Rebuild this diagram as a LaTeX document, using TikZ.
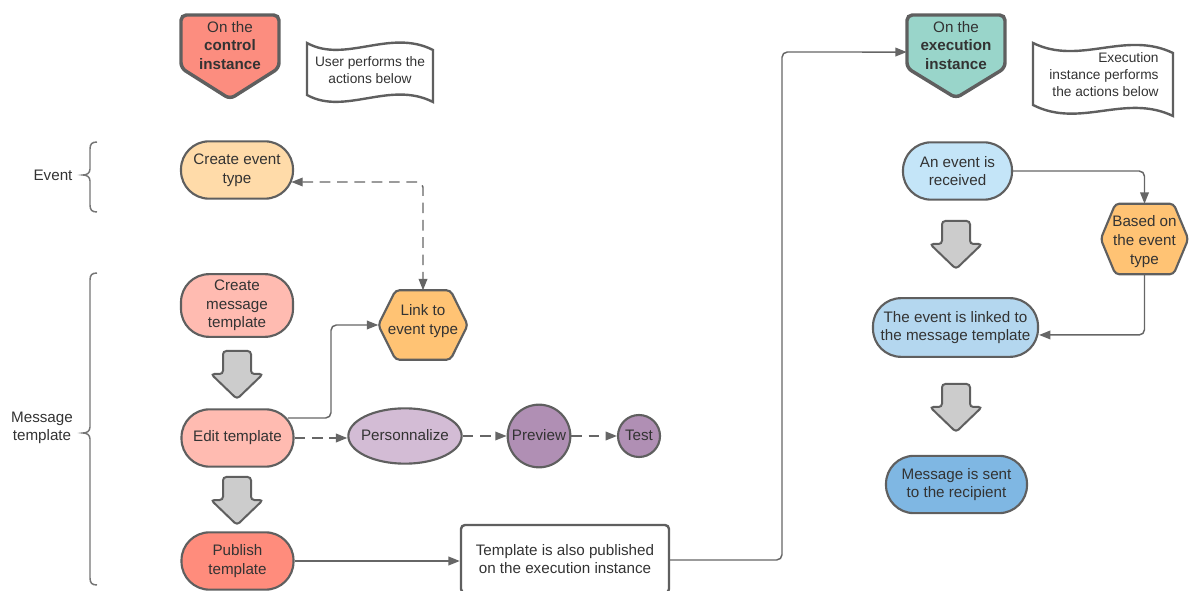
\documentclass[tikz,border=0pt]{standalone}
\usepackage{fontspec}
\setmainfont{Liberation Sans}
\usetikzlibrary{arrows.meta,shapes.geometric}
\definecolor{bd}{HTML}{5F5F5F}
\definecolor{ln}{HTML}{666666}
\definecolor{tx}{HTML}{333333}
\definecolor{ctlfill}{HTML}{FC8D7F}
\definecolor{exefill}{HTML}{99D5CA}
\definecolor{lorange}{HTML}{FFDBA9}
\definecolor{lpink}{HTML}{FFBBB1}
\definecolor{salmon}{HTML}{FF8C7C}
\definecolor{hexor}{HTML}{FFC374}
\definecolor{lpurp}{HTML}{D3BCD5}
\definecolor{purp}{HTML}{B08FB4}
\definecolor{lblue}{HTML}{C4E5F8}
\definecolor{mblue}{HTML}{B4D7EF}
\definecolor{dblue}{HTML}{7FB7E3}
\definecolor{gry}{HTML}{CCCCCC}
\newcommand\blkarrow[2]{%
  \draw[blk] (#1-14,#2) -- (#1+14,#2) -- (#1+14,#2+23) -- (#1+26,#2+23) -- (#1,#2+48) -- (#1-26,#2+23) -- (#1-14,#2+23) -- cycle;}
\begin{document}
\begin{tikzpicture}[x=0.75pt,y=-0.75pt,
  txt/.style={font=\fontsize{11.4}{14}\selectfont, text=tx, align=center, inner sep=0pt},
  small/.style={font=\fontsize{10.3}{12.75}\selectfont, text=tx, inner sep=0pt},
  stad/.style={txt, draw=bd, line width=1.6pt, rounded corners=21pt, minimum width=84pt, minimum height=43pt},
  hexs/.style={draw=bd, line width=1.6pt, fill=hexor, rounded corners=3pt},
  penta/.style={draw=bd, line width=2.6pt, rounded corners=4pt},
  docs/.style={draw=bd, line width=1.8pt, fill=white},
  blk/.style={fill=gry, draw=bd, line width=1.5pt, rounded corners=2.5pt},
  brc/.style={draw=ln!90, line width=1.1pt},
  >={Triangle[length=8.5pt,width=6.5pt]},
  conn/.style={draw=ln, line width=1.1pt, ->, rounded corners=4pt},
  dsh/.style={conn, dash pattern=on 8pt off 5pt}]
\useasboundingbox (0,0) rectangle (1189,591);

% headers
\draw[penta, fill=ctlfill] (181,15) -- (279,15) -- (279,68) -- (230,99) -- (181,68) -- cycle;
\node[txt, minimum width=73.5pt] (ctl) at (230,45.5) {On the\\\textbf{control}\\\textbf{instance}};
\draw[penta, fill=exefill] (907,15) -- (1005,15) -- (1005,68) -- (956,98) -- (907,68) -- cycle;
\node[txt, minimum width=73.5pt] (exe) at (956,45.5) {On the\\\textbf{execution}\\\textbf{instance}};

\draw[docs] (307,43) .. controls (345,64) and (390,28) .. (433,50) -- (433,102) .. controls (390,80) and (345,116) .. (307,95) -- cycle;
\node[small, align=center] (udoc) at (370,70.5) {User performs the\\actions below};
\draw[docs] (1033,43) .. controls (1080,66) and (1125,30) .. (1173,53) -- (1173,116) .. controls (1125,93) and (1080,129) .. (1033,105) -- cycle;
\node[small, align=right] (edoc) at (1104,74.5) {Execution\\instance performs\\the actions below};

% braces
\draw[brc] (97,142) .. controls (92,142) and (90,144) .. (90,149) -- (90,169) .. controls (90,173) and (87,175) .. (83,175) .. controls (87,175) and (90,177) .. (90,181) -- (90,205) .. controls (90,210) and (92,212) .. (97,212);
\node[txt] (lev) at (53,175) {Event};
\draw[brc] (97,273) .. controls (92,273) and (90,275) .. (90,280) -- (90,427) .. controls (90,431) and (87,433) .. (83,433) .. controls (87,433) and (90,435) .. (90,439) -- (90,578) .. controls (90,583) and (92,585) .. (97,585);
\node[txt] (lmt) at (42,428) {Message\\template};

% left column
\node[stad, fill=lorange] (cet) at (237,170) {Create event\\type};
\node[stad, fill=lpink, minimum height=47pt] (cmt) at (237,305.5) {Create\\message\\template};
\blkarrow{237}{351}
\node[stad, fill=lpink] (edt) at (237.5,438) {Edit template};
\blkarrow{237}{477}
\node[stad, fill=salmon] (pub) at (237.5,561) {Publish\\template};

% link hex
\node[txt, minimum width=66.75pt, minimum height=51.75pt] (lnk) at (423,325) {};
\draw[hexs] ([xshift=13pt]lnk.north west) -- ([xshift=-13pt]lnk.north east) -- (lnk.east) -- ([xshift=-13pt]lnk.south east) -- ([xshift=13pt]lnk.south west) -- (lnk.west) -- cycle;
\node[txt] (lnkt) at (423,321) {Link to\\event type};

% personalize row
\node[ellipse, draw=bd, line width=1.6pt, fill=lpurp, inner sep=0pt, minimum width=85pt, minimum height=41.5pt] (per) at (405,436) {};
\node[txt] (pert) at (405,435) {Personnalize};
\node[circle, draw=bd, line width=1.6pt, fill=purp, inner sep=0pt, minimum size=47pt] (pre) at (539,436) {};
\node[txt] (pret) at (539,435) {Preview};
\node[circle, draw=bd, line width=1.6pt, fill=purp, inner sep=0pt, minimum size=31.5pt] (tst) at (639,436) {};
\node[txt] (tstt) at (639,435) {Test};

% template box
\node[txt, draw=bd, line width=1.8pt, fill=white, rounded corners=3pt, minimum width=156pt, minimum height=51pt] (tpl) at (565,559) {Template is also published\\on the execution instance};

% right column
\node[stad, fill=lblue, minimum width=81.75pt] (ev) at (957.5,171) {An event is\\received};
\blkarrow{956}{221}
\node[txt, minimum width=65.25pt, minimum height=52.5pt] (bas) at (1144.5,239) {};
\draw[hexs] ([xshift=11pt]bas.north west) -- ([xshift=-11pt]bas.north east) -- (bas.east) -- ([xshift=-11pt]bas.south east) -- ([xshift=11pt]bas.south west) -- (bas.west) -- cycle;
\node[txt] (bast) at (1144.5,241.5) {Based on\\the event\\type};
\node[stad, fill=mblue, minimum width=123.75pt, minimum height=44pt] (lkd) at (955.5,327.5) {The event is linked to\\the message template};
\blkarrow{956}{384}
\node[stad, fill=dblue, minimum width=105.75pt] (snt) at (956.5,484.5) {Message is sent\\to the recipient};

% connectors
\draw[dsh, <->] ([xshift=-2pt,yshift=-9pt]cet.east) -| (lnk.north);
\draw[conn] ([xshift=-5pt,yshift=15pt]edt.east) -| (331,325) -- (lnk.west);
\draw[dsh] (edt.east) -- (edt.east -| per.west);
\draw[dsh] (per.east) -- (pre.west);
\draw[dsh] (pre.east) -- (tst.west);
\draw[conn] (pub.east) -- (pub.east -| tpl.west);
\draw[conn] ([yshift=-0.75pt]tpl.east) -| (782,52) -- ([yshift=-4.9pt]exe.west);
\draw[conn] (ev.east) -| (bas.north);
\draw[conn] (bas.south) |- ([yshift=-5.6pt]lkd.east);
\end{tikzpicture}
\end{document}
